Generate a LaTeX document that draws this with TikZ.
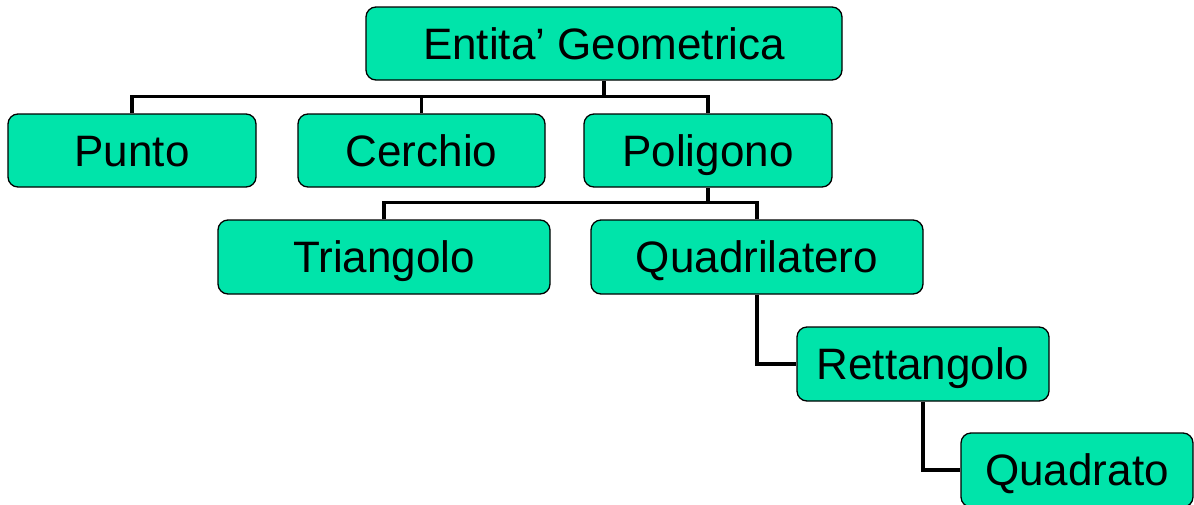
\documentclass[tikz,border=0pt]{standalone}
\usepackage{fontspec}
\setmainfont{Liberation Sans}
\definecolor{boxgreen}{RGB}{0,228,170}
\begin{document}
\begin{tikzpicture}[x=1pt,y=-1pt,
  box/.style={draw=black,line width=1.3pt,fill=boxgreen,rounded corners=10pt,
    inner sep=0pt,font=\fontsize{44}{50}\selectfont,text=black,
    text height=31.5pt,text depth=0pt},
  link/.style={draw=black,line width=3.6pt}]
\useasboundingbox (0,0) rectangle (1194,504);
\node[box,minimum width=476pt,minimum height=73pt] (ent) at (604,43.5) {Entita’ Geometrica};
\node[box,minimum width=248pt,minimum height=73pt] (punto) at (132,150.5) {Punto};
\node[box,minimum width=247pt,minimum height=73pt] (cerchio) at (421.5,150.5) {Cerchio};
\node[box,minimum width=248pt,minimum height=73pt] (poli) at (708,150.5) {Poligono};
\node[box,minimum width=332pt,minimum height=74pt] (tri) at (384,257) {Triangolo};
\node[box,minimum width=332pt,minimum height=74pt] (quad) at (757,257) {Quadrilatero};
\node[box,minimum width=252pt,minimum height=74pt] (rett) at (923,364) {Rettangolo};
\node[box,minimum width=232pt,minimum height=74pt] (qdr) at (1077,470) {Quadrato};
\draw[link] (punto.north) -- ++(0,-17) -| (ent.south);
\draw[link] (cerchio.north) -- ++(0,-17);
\draw[link] (poli.north) -- ++(0,-17) -| (ent.south);
\draw[link] (tri.north) -- ++(0,-17) -| (poli.south);
\draw[link] (quad.north) -- ++(0,-17) -| (poli.south);
\draw[link] (quad.south) |- (rett.west);
\draw[link] (rett.south) |- (qdr.west);
\end{tikzpicture}
\end{document}
